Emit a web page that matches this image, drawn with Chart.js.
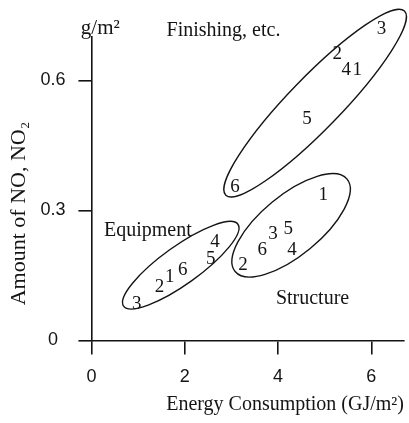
<!DOCTYPE html>
<html><head><meta charset="utf-8">
<script src="https://cdn.jsdelivr.net/npm/chart.js@4.4.0/dist/chart.umd.min.js"></script>
<style>html,body{margin:0;padding:0;background:#fff;}</style>
</head><body>
<canvas id="c" width="409" height="423" style="width:409px;height:423px;display:block"></canvas>
<script>
// ---- data ----
const pointLabels = ['1', '2', '3', '4', '5', '6'];
const finishingX = [5.70, 5.27, 6.22, 5.46, 4.62, 3.08];
const finishingY = [0.628, 0.665, 0.721, 0.628, 0.515, 0.358];
const structureX = [4.97, 3.25, 3.89, 4.30, 4.22, 3.66];
const structureY = [0.339, 0.178, 0.249, 0.212, 0.261, 0.212];
const equipmentX = [1.68, 1.46, 0.97, 2.65, 2.56, 1.96];
const equipmentY = [0.150, 0.127, 0.088, 0.231, 0.192, 0.166];
const xTicks = [0, 2, 4, 6];
const yTicks = [0, 0.3, 0.6];
const groupNames = ['Finishing, etc.', 'Structure', 'Equipment'];
const xTitle = 'Energy Consumption (GJ/m\u00B2)';
const yTitle = 'Amount of NO, NO\u2082';
const unitLabel = 'g/m\u00B2';

// group envelopes: long-axis end points in data units
const finishingEnvelope = [[2.88, 0.335], [6.71, 0.760]];
const structureEnvelope = [[3.08, 0.159], [5.48, 0.372]];
const equipmentEnvelope = [[0.69, 0.079], [3.14, 0.268]];

// ---- styling ----
const INK = '#141414';
const SERIF = '"Liberation Serif", "DejaVu Serif", serif';
const SANS = '"Liberation Sans", Arial, sans-serif';

function toPoints(xs, ys) { return xs.map((v, i) => ({x: v, y: ys[i]})); }

const envelopes = [
  {ends: finishingEnvelope, half: 26},
  {ends: structureEnvelope, half: 30},
  {ends: equipmentEnvelope, half: 19}
];
const notes = [
  {text: unitLabel, at: [0.19, 0.707], size: 21},
  {text: groupNames[0], at: [2.83, 0.702], size: 20},
  {text: groupNames[2], at: [1.21, 0.240], size: 20},
  {text: groupNames[1], at: [4.74, 0.083], size: 20}
];

const envelopePlugin = {
  id: 'envelopes',
  beforeDatasetsDraw(chart) {
    const {ctx, scales: {x, y}} = chart;
    ctx.save();
    ctx.strokeStyle = INK;
    ctx.lineWidth = 1.4;
    envelopes.forEach(e => {
      const x1 = x.getPixelForValue(e.ends[0][0]), y1 = y.getPixelForValue(e.ends[0][1]);
      const x2 = x.getPixelForValue(e.ends[1][0]), y2 = y.getPixelForValue(e.ends[1][1]);
      const a = Math.hypot(x2 - x1, y2 - y1) / 2;
      ctx.beginPath();
      ctx.ellipse((x1 + x2) / 2, (y1 + y2) / 2, a, e.half, Math.atan2(y2 - y1, x2 - x1), 0, Math.PI * 2);
      ctx.stroke();
    });
    ctx.restore();
  },
  afterDatasetsDraw(chart) {
    // each point is drawn as its item number, at the position computed by the library
    const {ctx} = chart;
    ctx.save();
    ctx.fillStyle = INK;
    ctx.font = '19px ' + SERIF;
    ctx.textAlign = 'center';
    ctx.textBaseline = 'alphabetic';
    chart.data.datasets.forEach((ds, di) => {
      chart.getDatasetMeta(di).data.forEach((el, i) => {
        ctx.fillText(pointLabels[i], el.x, el.y + 6.5);
      });
    });
    ctx.restore();
  },
  afterDraw(chart) {
    const {ctx, scales: {x, y}} = chart;
    ctx.save();
    ctx.fillStyle = INK;
    ctx.textAlign = 'center';
    ctx.textBaseline = 'alphabetic';
    notes.forEach(n => {
      ctx.font = n.size + 'px ' + SERIF;
      ctx.fillText(n.text, x.getPixelForValue(n.at[0]), y.getPixelForValue(n.at[1]));
    });
    ctx.restore();
  }
};

const common = {showLine: false, clip: false, pointRadius: 0, pointHoverRadius: 0};

new Chart(document.getElementById('c'), {
  type: 'scatter',
  data: {
    datasets: [
      Object.assign({label: groupNames[0], data: toPoints(finishingX, finishingY)}, common),
      Object.assign({label: groupNames[1], data: toPoints(structureX, structureY)}, common),
      Object.assign({label: groupNames[2], data: toPoints(equipmentX, equipmentY)}, common)
    ]
  },
  options: {
    responsive: false,
    animation: false,
    devicePixelRatio: 1,
    events: [],
    layout: {padding: {left: 0, right: 5, top: 37, bottom: 2}},
    plugins: {legend: {display: false}, tooltip: {enabled: false}},
    scales: {
      x: {
        type: 'linear', min: 0, max: 6.7,
        afterBuildTicks: s => { s.ticks = xTicks.map(v => ({value: v})); },
        border: {display: true, color: INK, width: 1.6},
        grid: {drawOnChartArea: false, drawTicks: true, tickLength: 14, color: INK, lineWidth: 1.6},
        ticks: {font: {family: SANS, size: 18}, color: INK, padding: 12, callback: v => String(v)},
        title: {display: true, text: xTitle, align: 'end', color: INK,
                font: {family: SERIF, size: 20}, padding: {top: -7, bottom: 4}}
      },
      y: {
        type: 'linear', min: 0, max: 0.7,
        afterBuildTicks: s => { s.ticks = yTicks.map(v => ({value: v})); },
        border: {display: true, color: INK, width: 1.6},
        grid: {drawOnChartArea: false, drawTicks: true, tickLength: 13, color: INK, lineWidth: 1.6},
        ticks: {font: {family: SANS, size: 18}, color: INK, padding: 13, crossAlign: 'center',
                callback: v => String(v)},
        title: {display: true, text: yTitle + '\u00A0'.repeat(9), color: INK,
                font: {family: SERIF, size: 22}, padding: {top: 6, bottom: -5}}
      }
    }
  },
  plugins: [envelopePlugin]
});
</script>
</body></html>
